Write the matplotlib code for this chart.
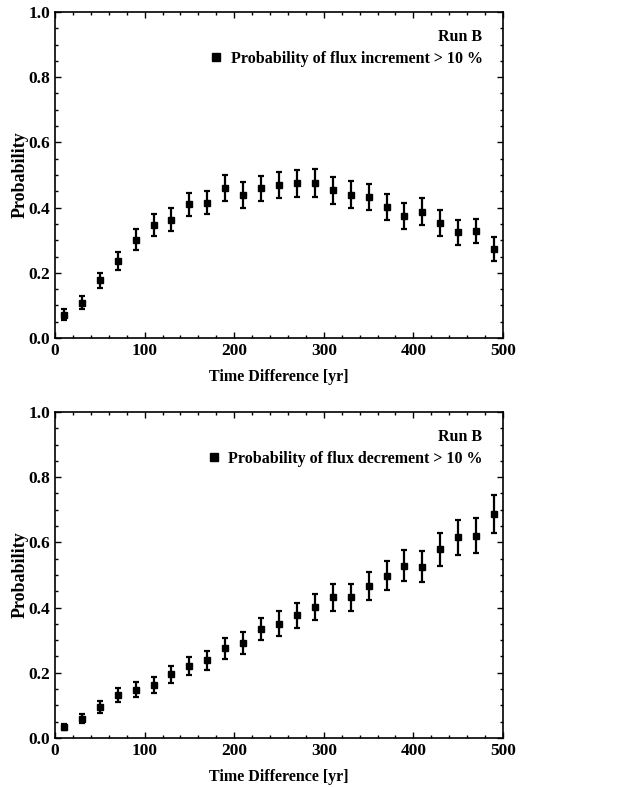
import matplotlib.pyplot as plt
from matplotlib.ticker import MultipleLocator
from matplotlib.lines import Line2D

plt.rcParams['font.family'] = ['Liberation Serif', 'DejaVu Serif']
plt.rcParams['font.weight'] = 'bold'

dt = [10, 30, 50, 70, 90, 110, 130, 150, 170, 190, 210, 230, 250,
      270, 290, 310, 330, 350, 370, 390, 410, 430, 450, 470, 490]

p_inc = [0.072, 0.108, 0.177, 0.237, 0.301, 0.347, 0.363, 0.410, 0.415,
         0.459, 0.438, 0.459, 0.469, 0.474, 0.476, 0.453, 0.440, 0.433,
         0.403, 0.375, 0.388, 0.352, 0.324, 0.327, 0.273]
e_inc = [0.018, 0.020, 0.023, 0.027, 0.032, 0.034, 0.035, 0.036, 0.036,
         0.040, 0.040, 0.039, 0.040, 0.042, 0.043, 0.041, 0.041, 0.040,
         0.040, 0.040, 0.040, 0.040, 0.038, 0.037, 0.037]

p_dec = [0.033, 0.059, 0.095, 0.132, 0.148, 0.162, 0.196, 0.221, 0.239,
         0.275, 0.291, 0.334, 0.351, 0.376, 0.402, 0.431, 0.431, 0.467,
         0.498, 0.529, 0.526, 0.579, 0.615, 0.621, 0.688]
e_dec = [0.010, 0.014, 0.017, 0.022, 0.023, 0.024, 0.026, 0.027, 0.029,
         0.032, 0.033, 0.034, 0.037, 0.038, 0.040, 0.040, 0.041, 0.043,
         0.045, 0.048, 0.047, 0.050, 0.053, 0.053, 0.058]

fig = plt.figure(figsize=(6.2, 7.87), dpi=100)
ax1 = fig.add_axes([0.0887, 0.5705, 0.7226, 0.4143])
ax2 = fig.add_axes([0.0887, 0.0623, 0.7226, 0.4142])


def draw(ax, y, err, label):
    ax.errorbar(dt, y, yerr=err, fmt='s', color='black', ms=5,
                elinewidth=1.6, capsize=2.2, capthick=1.6)
    ax.set_xlim(0, 500)
    ax.set_ylim(0, 1.0)
    ax.xaxis.set_major_locator(MultipleLocator(100))
    ax.xaxis.set_minor_locator(MultipleLocator(20))
    ax.yaxis.set_major_locator(MultipleLocator(0.2))
    ax.yaxis.set_minor_locator(MultipleLocator(0.05))
    ax.yaxis.set_major_formatter(plt.FormatStrFormatter('%.1f'))
    ax.tick_params(which='both', direction='in', top=True, right=True,
                   labelsize=12.5, width=1.0)
    ax.tick_params(which='major', length=4)
    ax.tick_params(which='minor', length=2)
    for s in ax.spines.values():
        s.set_linewidth(1.2)
    ax.set_xlabel('Time Difference [yr]', fontsize=11.5, fontweight='bold', labelpad=7.5)
    ax.set_ylabel('Probability', fontsize=13, fontweight='bold', labelpad=-0.5)
    ax.text(0.953, 0.923, 'Run B', transform=ax.transAxes, ha='right',
            va='center', fontsize=11.5, fontweight='bold')
    handle = Line2D([], [], marker='s', ls='none', color='black', ms=5.5)
    ax.legend([handle], [label], loc='center right',
              bbox_to_anchor=(0.955, 0.856), frameon=False,
              handlelength=0.6, handletextpad=0.6, borderpad=0,
              borderaxespad=0, prop={'size': 11.5, 'weight': 'bold'})


draw(ax1, p_inc, e_inc, 'Probability of flux increment > 10 %')
draw(ax2, p_dec, e_dec, 'Probability of flux decrement > 10 %')

fig.savefig('out.png', dpi=100)
